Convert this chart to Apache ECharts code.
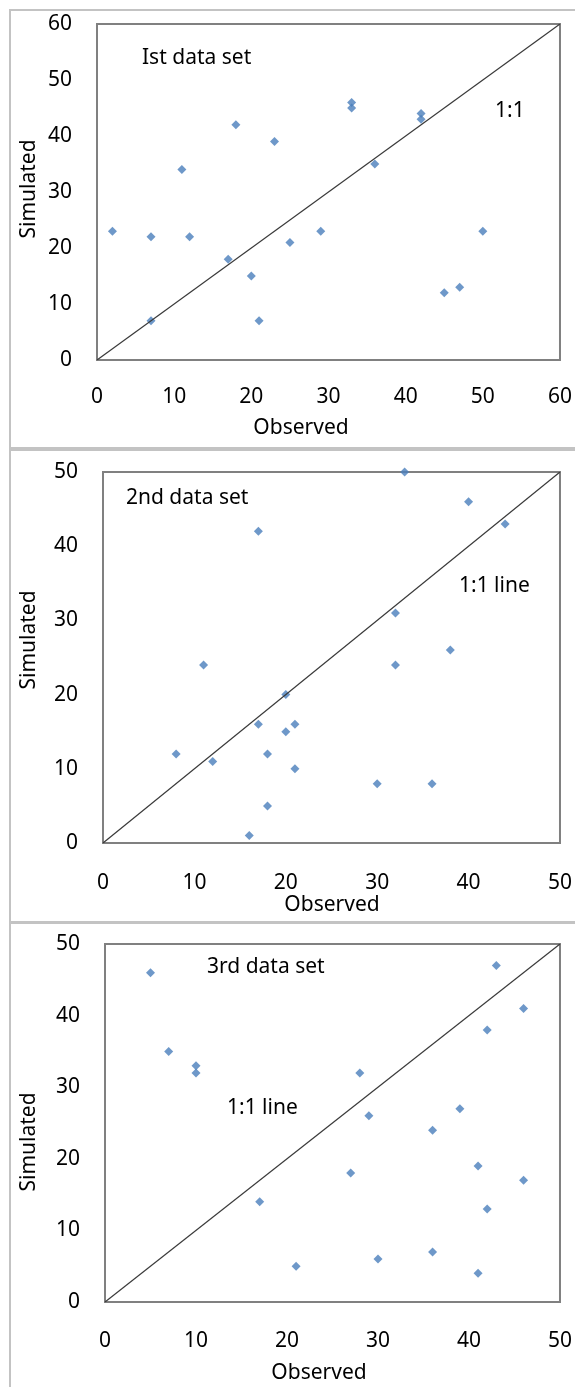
<!DOCTYPE html>
<html>
<head>
<meta charset="utf-8">
<script src="https://cdn.jsdelivr.net/npm/echarts@6/dist/echarts.min.js"></script>
<style>
  body { margin: 0; background: #fff; }
  #chart { width: 575px; height: 1387px; }
</style>
</head>
<body>
<div id="chart"></div>
<script>
// observed / simulated pairs
const obs1 = [2, 7, 7, 11, 12, 17, 18, 20, 21, 23, 25, 29, 33, 33, 36, 42, 42, 45, 47, 50];
const sim1 = [23, 22, 7, 34, 22, 18, 42, 15, 7, 39, 21, 23, 46, 45, 35, 44, 43, 12, 13, 23];

const obs2 = [8, 11, 12, 16, 17, 17, 18, 18, 20, 20, 21, 21, 30, 32, 32, 33, 36, 38, 40, 44];
const sim2 = [12, 24, 11, 1, 42, 16, 12, 5, 20, 15, 16, 10, 8, 31, 24, 50, 8, 26, 46, 43];

const obs3 = [5, 7, 10, 10, 17, 21, 27, 28, 29, 30, 36, 36, 39, 41, 41, 42, 42, 43, 46, 46];
const sim3 = [46, 35, 33, 32, 14, 5, 18, 32, 26, 6, 24, 7, 27, 19, 4, 38, 13, 47, 41, 17];

// 1:1 reference lines
const line1 = [[0, 0], [60, 60]];
const line2 = [[0, 0], [50, 50]];
const line3 = [[0, 0], [50, 50]];

const titles = ['Ist data set', '2nd data set', '3rd data set'];
const lineLabels = ['1:1', '1:1 line', '1:1 line'];

const FONT = '"Noto Sans", sans-serif';
const pairs = (xs, ys) => xs.map((x, i) => [x, ys[i]]);

const grids = [
  { left: 97, top: 24, width: 465, height: 336 },
  { left: 103, top: 472, width: 459, height: 371 },
  { left: 105, top: 944, width: 456, height: 358 }
];
const axisMax = [60, 50, 50];
const labelMargin = [27, 30, 29];

let chart = echarts.init(document.getElementById('chart'));

const grid = grids.map(g => Object.assign({
  show: true, borderColor: '#808080', borderWidth: 2, backgroundColor: 'transparent'
}, g));

const xAxis = axisMax.map((m, i) => ({
  type: 'value', gridIndex: i, min: 0, max: m, interval: 10,
  axisLine: { show: false }, axisTick: { show: false }, splitLine: { show: false },
  axisLabel: { color: '#000', fontFamily: FONT, fontSize: 21, margin: labelMargin[i] }
}));
const yAxis = axisMax.map((m, i) => ({
  type: 'value', gridIndex: i, min: 0, max: m, interval: 10,
  axisLine: { show: false }, axisTick: { show: false }, splitLine: { show: false },
  axisLabel: { color: '#000', fontFamily: FONT, fontSize: 21, margin: 25 }
}));

const points = [pairs(obs1, sim1), pairs(obs2, sim2), pairs(obs3, sim3)];
const lines = [line1, line2, line3];

const series = [];
for (let i = 0; i < 3; i++) {
  series.push({
    type: 'line', xAxisIndex: i, yAxisIndex: i, data: lines[i],
    showSymbol: false, silent: true,
    lineStyle: { color: '#3a3a3a', width: 1.2 }
  });
  series.push({
    type: 'scatter', xAxisIndex: i, yAxisIndex: i, data: points[i],
    symbol: 'diamond', symbolSize: 9,
    itemStyle: { color: '#4a7ebb' }
  });
}

const txt = (text, x, y, opts) => Object.assign({
  type: 'text', x: x, y: y,
  style: { text: text, fill: '#000', font: '21px ' + FONT, verticalAlign: 'middle' }
}, opts || {});

const centered = (text, x, y, rot) => ({
  type: 'text', x: x, y: y, rotation: rot || 0,
  style: { text: text, fill: '#000', font: '21px ' + FONT, align: 'center', verticalAlign: 'middle' }
});

const graphic = [
  // outer frames
  { type: 'rect', shape: { x: 10, y: 10, width: 580, height: 438 }, style: { fill: 'none', stroke: '#c3c3c3', lineWidth: 2 } },
  { type: 'rect', shape: { x: 10, y: 450, width: 580, height: 472 }, style: { fill: 'none', stroke: '#c3c3c3', lineWidth: 2 } },
  { type: 'rect', shape: { x: 10, y: 923, width: 580, height: 480 }, style: { fill: 'none', stroke: '#c3c3c3', lineWidth: 2 } },
  // panel texts
  txt(titles[0], 142, 58),
  txt(lineLabels[0], 495, 111),
  txt(titles[1], 126, 498),
  txt(lineLabels[1], 459, 586),
  txt(titles[2], 207, 967),
  txt(lineLabels[2], 227, 1108),
  // axis titles
  centered('Observed', 301, 428),
  centered('Observed', 332, 905),
  centered('Observed', 319, 1373),
  centered('Simulated', 29, 189, Math.PI / 2),
  centered('Simulated', 29, 640, Math.PI / 2),
  centered('Simulated', 29, 1142, Math.PI / 2)
];

chart.setOption({
  animation: false,
  backgroundColor: '#fff',
  grid: grid,
  xAxis: xAxis,
  yAxis: yAxis,
  series: series,
  graphic: graphic
});
</script>
</body>
</html>
